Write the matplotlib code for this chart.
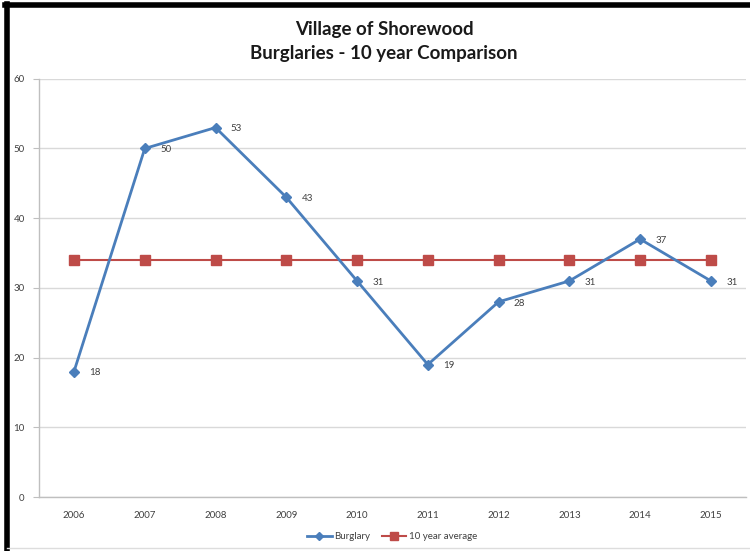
import matplotlib.pyplot as plt
from matplotlib.lines import Line2D

# DATA
years = ["2006", "2007", "2008", "2009", "2010", "2011", "2012", "2013", "2014", "2015"]
burglary = [18, 50, 53, 43, 31, 19, 28, 31, 37, 31]
ten_year_avg = [34, 34, 34, 34, 34, 34, 34, 34, 34, 34]

BLUE = "#4A7EBB"
RED = "#BE4B48"
GRID = "#D9D9D9"

plt.rcParams["font.family"] = ["Lato", "DejaVu Sans"]

fig = plt.figure(figsize=(7.5, 5.51), dpi=100)
ax = fig.add_axes([0.0515, 0.098, 0.9435, 0.759])

x = list(range(len(years)))
ax.plot(x, burglary, color=BLUE, linewidth=2, marker="D", markersize=5.5,
        label="Burglary", zorder=3)
ax.plot(x, ten_year_avg, color=RED, linewidth=1.5, marker="s", markersize=6.5,
        label="10 year average", zorder=2)

for xi, v in zip(x, burglary):
    ax.annotate(str(v), (xi, v), xytext=(11, -1), textcoords="offset points",
                fontsize=7, color="#404040", va="center", ha="left")

ax.set_xlim(-0.5, len(years) - 0.5)
ax.set_ylim(0, 60)
ax.set_yticks(range(0, 61, 10))
ax.set_xticks(x)
ax.set_xticklabels(years)
ax.tick_params(axis="both", labelsize=7, colors="#404040")
ax.tick_params(axis="x", length=0, pad=10)
ax.tick_params(axis="y", length=4, color="#BFBFBF", pad=6)
ax.yaxis.grid(True, color=GRID, linewidth=1)
ax.set_axisbelow(True)
for s in ["top", "right"]:
    ax.spines[s].set_visible(False)
for s in ["left", "bottom"]:
    ax.spines[s].set_color("#BFBFBF")
    ax.spines[s].set_linewidth(1)

fig.text(0.512, 0.946, "Village of Shorewood", ha="center", va="center",
         fontsize=13.5, fontweight="bold", color="#1a1a1a")
fig.text(0.512, 0.902, "Burglaries - 10 year Comparison", ha="center", va="center",
         fontsize=13.5, fontweight="bold", color="#1a1a1a")

ax.legend(loc="center", bbox_to_anchor=(0.5, -0.095), ncol=2, frameon=False,
          fontsize=7, handlelength=2.5, columnspacing=1.2, handletextpad=0.3,
          labelcolor="#404040", markerscale=0.8)

# dark frame on top/left edges
fig.add_artist(Line2D([0.009, 0.009], [0, 0.993], color="black", linewidth=4,
                      transform=fig.transFigure))
fig.add_artist(Line2D([0.007, 1.0], [0.991, 0.991], color="black", linewidth=4,
                      transform=fig.transFigure))
fig.add_artist(Line2D([0.009, 1.0], [0.005, 0.005], color="#DDDDDD", linewidth=1,
                      transform=fig.transFigure))

fig.savefig("out.png", dpi=100)
